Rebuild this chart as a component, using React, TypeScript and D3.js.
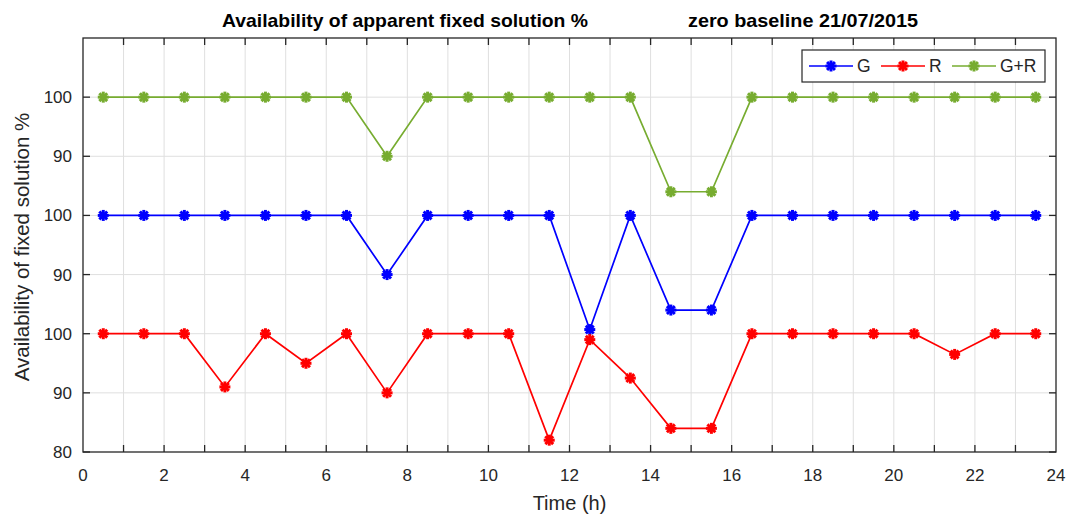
import React from "react";
import * as d3 from "d3";

// Hourly sample times (h)
const hours = [0.5, 1.5, 2.5, 3.5, 4.5, 5.5, 6.5, 7.5, 8.5, 9.5, 10.5, 11.5, 12.5, 13.5, 14.5, 15.5, 16.5, 17.5, 18.5, 19.5, 20.5, 21.5, 22.5, 23.5];

// Availability of fixed solution (%) per constellation
const gValues = [100, 100, 100, 100, 100, 100, 100, 90, 100, 100, 100, 100, 80.7, 100, 84, 84, 100, 100, 100, 100, 100, 100, 100, 100];
const rValues = [100, 100, 100, 91, 100, 95, 100, 90, 100, 100, 100, 82, 99, 92.5, 84, 84, 100, 100, 100, 100, 100, 96.5, 100, 100];
const grValues = [100, 100, 100, 100, 100, 100, 100, 90, 100, 100, 100, 100, 100, 100, 84, 84, 100, 100, 100, 100, 100, 100, 100, 100];

// Each series is stacked on its own band of the shared y axis
const seriesNames = ["G", "R", "G+R"];
const seriesOffsets = [20, 0, 40];
const seriesColors = ["#0000ff", "#ff0000", "#77ac30"];

// Y ticks on the shared axis and the labels shown for them
const yTickValues = [80, 90, 100, 110, 120, 130, 140];
const yTickLabels = ["80", "90", "100", "90", "100", "90", "100"];
const xTickValues = [0, 2, 4, 6, 8, 10, 12, 14, 16, 18, 20, 22, 24];
const xMinorValues = [1, 2, 3, 4, 5, 6, 7, 8, 9, 10, 11, 12, 13, 14, 15, 16, 17, 18, 19, 20, 21, 22, 23];

const titleMain = "Availability of apparent fixed solution %";
const titleSub = "zero baseline 21/07/2015";
const xLabel = "Time (h)";
const yLabel = "Availability of fixed solution %";

const W = 1069;
const H = 517;
const left = 83;
const right = 1056;
const top = 38;
const bottom = 452;
const font = "'Liberation Sans', Arial, Helvetica, sans-serif";
const axisColor = "#262626";
const gridColor = "#dfdfdf";
const tickLen = 7;

function Marker({ x, y, color }: { x: number; y: number; color: string }) {
  const r = 4;
  const d = r * 0.72;
  return (
    <g stroke={color} strokeWidth={3} strokeLinecap="square">
      <line x1={x - r} y1={y} x2={x + r} y2={y} />
      <line x1={x} y1={y - r} x2={x} y2={y + r} />
      <line x1={x - d} y1={y - d} x2={x + d} y2={y + d} />
      <line x1={x - d} y1={y + d} x2={x + d} y2={y - d} />
    </g>
  );
}

export default function App() {
  const x = d3.scaleLinear().domain([0, 24]).range([left, right]);
  const y = d3.scaleLinear().domain([80, 150]).range([bottom, top]);

  const data = [gValues, rValues, grValues];
  const line = d3
    .line<[number, number]>()
    .x((d) => x(d[0]))
    .y((d) => y(d[1]));

  const drawOrder = [0, 1, 2];

  const legendX = 802;
  const legendY = 50;
  const legendW = 243;
  const legendH = 32;
  const legendItems = [
    { lx: 809, tx: 857 },
    { lx: 881, tx: 929 },
    { lx: 952, tx: 1000 },
  ];

  return (
    <svg
      width={W}
      height={H}
      style={{ position: "absolute", left: 0, top: 0, background: "#fff" }}
      fontFamily={font}
    >
      <rect x={0} y={0} width={W} height={H} fill="#fff" />

      {/* grid */}
      <g stroke={gridColor} strokeWidth={1}>
        {xMinorValues.map((v) => (
          <line key={"gx" + v} x1={x(v)} x2={x(v)} y1={top} y2={bottom} />
        ))}
        {yTickValues.slice(1).map((v) => (
          <line key={"gy" + v} x1={left} x2={right} y1={y(v)} y2={y(v)} />
        ))}
      </g>

      {/* series */}
      {drawOrder.map((i) => {
        const pts: [number, number][] = hours.map((h, k) => [h, data[i][k] + seriesOffsets[i]]);
        return (
          <g key={seriesNames[i]}>
            <path d={line(pts) || ""} fill="none" stroke={seriesColors[i]} strokeWidth={1.7} />
            {pts.map((p, k) => (
              <Marker key={k} x={x(p[0])} y={y(p[1])} color={seriesColors[i]} />
            ))}
          </g>
        );
      })}

      {/* axes box and ticks */}
      <g stroke={axisColor} strokeWidth={1.3}>
        <rect x={left} y={top} width={right - left} height={bottom - top} fill="none" />
        {xMinorValues.map((v) => (
          <g key={"tx" + v}>
            <line x1={x(v)} x2={x(v)} y1={bottom} y2={bottom - tickLen} />
            <line x1={x(v)} x2={x(v)} y1={top} y2={top + tickLen} />
          </g>
        ))}
        {yTickValues.map((v) => (
          <g key={"ty" + v}>
            <line x1={left} x2={left + tickLen} y1={y(v)} y2={y(v)} />
            <line x1={right} x2={right - tickLen} y1={y(v)} y2={y(v)} />
          </g>
        ))}
      </g>

      {/* tick labels */}
      <g fill={axisColor} fontSize={17}>
        {xTickValues.map((v) => (
          <text key={"lx" + v} x={x(v)} y={481} textAnchor="middle">
            {v}
          </text>
        ))}
        {yTickValues.map((v, i) => (
          <text key={"ly" + v} x={72} y={y(v) + 6} textAnchor="end">
            {yTickLabels[i]}
          </text>
        ))}
      </g>

      {/* axis labels */}
      <text x={(left + right) / 2} y={510} textAnchor="middle" fontSize={20} fill={axisColor}>
        {xLabel}
      </text>
      <text
        transform={`translate(29, ${(top + bottom) / 2 + 2}) rotate(-90)`}
        textAnchor="middle"
        fontSize={20.5}
        fill={axisColor}
      >
        {yLabel}
      </text>

      {/* title */}
      <g fontSize={18.5} fontWeight="bold" fill="#000">
        <text x={222} y={27} textLength={366} lengthAdjust="spacingAndGlyphs">
          {titleMain}
        </text>
        <text x={688} y={27} textLength={230} lengthAdjust="spacingAndGlyphs">
          {titleSub}
        </text>
      </g>

      {/* legend */}
      <g>
        <rect x={legendX} y={legendY} width={legendW} height={legendH} fill="#fff" stroke={axisColor} strokeWidth={1.2} />
        {seriesNames.map((name, i) => {
          const it = legendItems[i];
          const cy = legendY + legendH / 2;
          return (
            <g key={"lg" + name}>
              <line x1={it.lx} x2={it.lx + 44} y1={cy} y2={cy} stroke={seriesColors[i]} strokeWidth={1.7} />
              <Marker x={it.lx + 22} y={cy} color={seriesColors[i]} />
              <text x={it.tx} y={cy + 6} fontSize={17.5} fill={axisColor}>
                {name}
              </text>
            </g>
          );
        })}
      </g>
    </svg>
  );
}
